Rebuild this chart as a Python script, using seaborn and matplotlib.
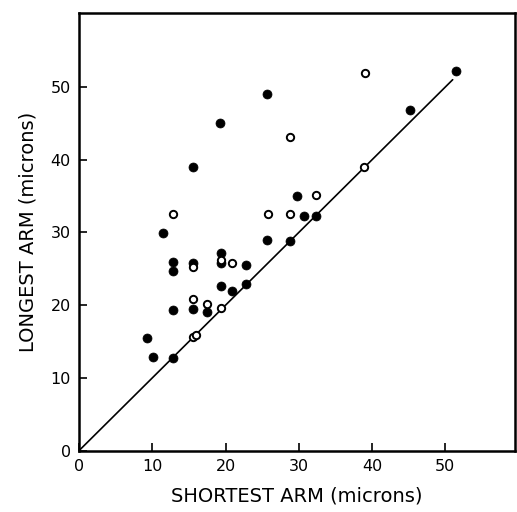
import numpy as np
import pandas as pd
from matplotlib import pyplot as plt
import seaborn as sns

# filled circles
filled_short = [51.4, 45.2, 25.7, 19.3, 15.5, 11.4, 29.8, 30.7, 32.3, 25.7, 28.8,
                12.8, 12.8, 15.5, 19.4, 19.4, 22.8, 19.4, 20.9, 22.8, 12.8, 15.5,
                17.4, 9.3, 10.1, 12.8]
filled_long = [52.2, 46.9, 49.0, 45.1, 39.0, 29.9, 35.0, 32.3, 32.3, 28.9, 28.8,
               25.9, 24.7, 25.8, 27.1, 25.8, 25.5, 22.6, 21.9, 22.9, 19.3, 19.4,
               19.0, 15.5, 12.9, 12.7]

# open circles
open_short = [39.0, 28.8, 38.9, 12.8, 32.3, 25.8, 28.8, 15.5, 19.4, 20.9, 15.5,
              17.4, 19.4, 15.5, 15.9]
open_long = [51.9, 43.1, 39.0, 32.5, 35.2, 32.5, 32.5, 25.2, 26.2, 25.8, 20.9,
             20.1, 19.6, 15.6, 15.9]

line_x = [0, 51]
line_y = [0, 51]

sns.set_style("white")
plt.rcParams['font.family'] = ['DejaVu Sans']

fig = plt.figure(figsize=(5.17, 5.12), dpi=100)
ax = fig.add_axes([0.153, 0.12, 0.843, 0.855])

sns.lineplot(x=line_x, y=line_y, ax=ax, color="black", linewidth=1.2)
sns.scatterplot(x=filled_short, y=filled_long, ax=ax, color="black", s=42,
                edgecolor="black", linewidth=0.5, zorder=3)
sns.scatterplot(x=open_short, y=open_long, ax=ax, color="white", s=28,
                edgecolor="black", linewidth=1.4, zorder=4)

ax.set_xlim(0, 59.5)
ax.set_ylim(0, 60.2)
ax.set_xticks([0, 10, 20, 30, 40, 50])
ax.set_yticks([0, 10, 20, 30, 40, 50])
ax.tick_params(direction="in", length=6, width=1.2, labelsize=11.5,
               labelcolor="black", color="black",
               left=True, bottom=True, pad=6)
for sp in ax.spines.values():
    sp.set_linewidth(1.8)
    sp.set_color("black")

ax.set_xlabel("SHORTEST ARM (microns)", fontsize=14, labelpad=9, color="black")
ax.set_ylabel("LONGEST ARM (microns)", fontsize=14, labelpad=9, color="black")

fig.savefig("out.png", dpi=100)
